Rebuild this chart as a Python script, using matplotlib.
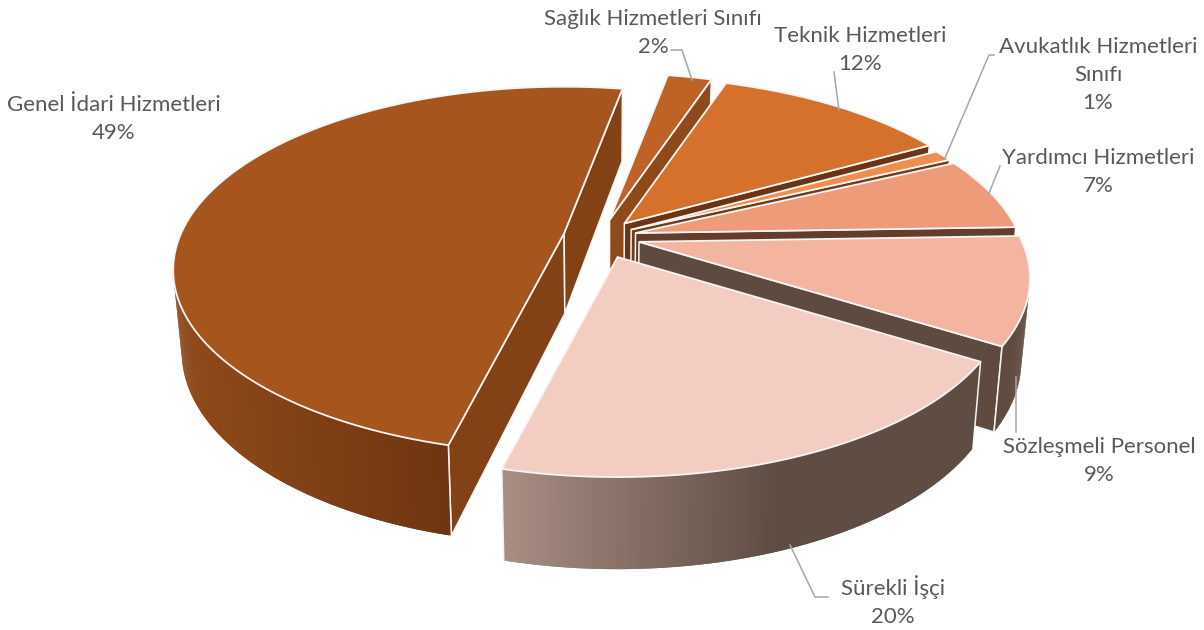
import numpy as np
import matplotlib
matplotlib.use("Agg")
import matplotlib.pyplot as plt
from matplotlib.colors import to_rgb
from matplotlib.patches import Polygon

# ---- data (clockwise from the top of the pie) ----
categories = ["Sağlık Hizmetleri Sınıfı", "Teknik Hizmetleri", "Avukatlık Hizmetleri\nSınıfı",
              "Yardımcı Hizmetleri", "Sözleşmeli Personel", "Sürekli İşçi", "Genel İdari Hizmetleri"]
values = [2.2, 11.8, 1.0, 6.55, 9.45, 20.0, 49.0]

# ---- styles ----
top_colors = ["#BF6226", "#D6712C", "#EE8E4F", "#EE9B79", "#F3B5A0", "#F3CDC2", "#A6561D"]
side_colors = ["#8F4A1A", "#6B3514", "#6E3D1E", "#633C2C", "#5F4A3F", "#5F4D44", "#824216"]
wall_left = ["#8F4A1A", "#6B3514", "#6E3D1E", "#633C2C", "#5F4A3F", "#A88D83", "#8F4A1A"]
wall_right = ["#8F4A1A", "#6B3514", "#6E3D1E", "#633C2C", "#5F4A3F", "#5F4D44", "#6F3512"]
grad_span = [(0, 1), (0, 1), (0, 1), (0, 1), (0, 1), (505, 775), (180, 445)]
explode = [0.12, 0.115, 0.1, 0.1, 0.1, 0.1, 0.1]
paint_order = [6, 0, 1, 2, 3, 4, 5]
START_DEG = 10.5
CX, CY, RX, RY, K = 600.0, 237.0, 383.0, 176.0, 0.2
TXT = "#595959"
LEAD = "#A6A6A6"
EDGE = "#F4F4F4"

label_pos = [(653, 33), (860, 50), (1098, 75), (1098, 172), (1099, 461), (893, 601), (114, 119)]
leaders = [[(671, 50), (682, 50), (692, 80)], [(834, 72), (839, 110)], [(994, 55), (989, 55), (945, 158)],
           [(1000, 166), (989, 193)], [(1016, 377), (1016, 432)], [(828, 597), (815, 597), (790, 545)], []]

plt.rcParams["font.family"] = ["Lato", "DejaVu Sans"]
fig = plt.figure(figsize=(12.04, 6.30), dpi=100)
ax = fig.add_axes([0, 0, 1, 1])
ax.set_xlim(0, 1204)
ax.set_ylim(630, 0)
ax.axis("off")


def proj(theta, r=1.0):
    u, v = np.sin(theta), -np.cos(theta)
    w = 1 - K * v
    return r * RX * u / w, r * RY * v / w


def lower(pts):
    pts = np.asarray(pts, float)
    return np.column_stack([CX + (pts[:, 0] - CX) * 0.98, pts[:, 1] + 80 + (pts[:, 1] - 235) * 0.05])


def area(p):
    x, y = p[:, 0], p[:, 1]
    return 0.5 * np.sum(x * np.roll(y, -1) - np.roll(x, -1) * y)


fractions = np.array(values, float) / sum(values)
edges = np.radians(START_DEG) + np.concatenate([[0], np.cumsum(fractions)]) * 2 * np.pi

for i in paint_order:
    a0, a1 = edges[i], edges[i + 1]
    mid = (a0 + a1) / 2
    dx, dy = proj(mid, explode[i])
    apex = np.array([CX + dx, CY + dy])
    th = np.linspace(a0, a1, max(int(np.degrees(a1 - a0) * 3), 4))
    rim = np.array([apex + np.array(proj(t)) for t in th])
    rim_low = lower(rim)
    apex_low = lower([apex])[0]

    # radial walls
    for p, q, pl, ql in ((apex, rim[0], apex_low, rim_low[0]), (rim[-1], apex, rim_low[-1], apex_low)):
        quad = np.array([p, q, ql, pl])
        if area(quad) < 0:
            ax.add_patch(Polygon(quad, closed=True, fc=side_colors[i], ec=EDGE, lw=1.1,
                                 joinstyle="miter", zorder=2))

    # outer wall with a horizontal gradient; strips overlap so no seams show
    visible = [j for j in range(len(rim) - 1)
               if area(np.array([rim[j], rim[j + 1], rim_low[j + 1], rim_low[j]])) < 0]
    for j in visible:
        k = j + 2 if j + 1 in visible else j + 1
        quad = np.vstack([rim[j:k + 1], rim_low[j:k + 1][::-1]])
        lo, hi = grad_span[i]
        f = np.clip((rim[j:j + 2, 0].mean() - lo) / (hi - lo), 0, 1)
        col = (1 - f) * np.array(to_rgb(wall_left[i])) + f * np.array(to_rgb(wall_right[i]))
        ax.add_patch(Polygon(quad, closed=True, fc=col, ec="none", zorder=2))
    if visible:
        for j in (0, len(rim) - 1):
            if j in (visible[0], visible[-1] + 1):
                ax.plot([rim[j, 0], rim_low[j, 0]], [rim[j, 1], rim_low[j, 1]], color=EDGE, lw=1.1, zorder=2)

    # top face
    top = np.vstack([apex, rim])
    ax.add_patch(Polygon(top, closed=True, fc=top_colors[i], ec=EDGE, lw=1.3, joinstyle="miter", zorder=2))

for i, name in enumerate(categories):
    ax.text(*label_pos[i], f"{name}\n{values[i]:.0f}%", ha="center", va="center", fontsize=16, color=TXT,
            linespacing=1.5, zorder=5)
    if leaders[i]:
        xs, ys = zip(*leaders[i])
        ax.plot(xs, ys, color=LEAD, lw=1.1, zorder=4)

fig.savefig("out.png", dpi=100, facecolor="white")
